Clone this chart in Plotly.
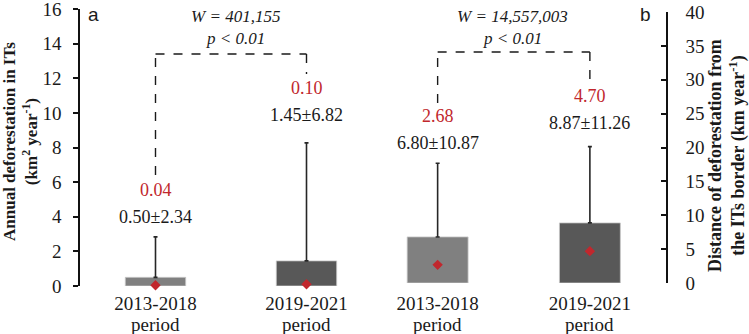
import plotly.graph_objects as go

W, H = 749, 334

# ---- data ----
periods = ["2013-2018", "2019-2021"]
period_word = "period"

a_mean = [0.50, 1.45]      # annual deforestation in ITs (km2 / year)
a_sd = [2.34, 6.82]
a_median = [0.04, 0.10]

b_mean = [6.80, 8.87]      # distance of deforestation from ITs border (km / year)
b_sd = [10.87, 11.26]
b_median = [2.68, 4.70]

a_W, a_p = "401,155", "0.01"
b_W, b_p = "14,557,003", "0.01"

left_ticks = list(range(0, 17, 2))
right_ticks = list(range(0, 41, 5))

# ---- styles ----
LIGHT = "#808080"
DARK = "#585858"
RED = "#c1272d"
INK = "#1a1a1a"
SERIF = "Liberation Serif, Times New Roman, serif"
SANS = "Liberation Sans, Arial, sans-serif"


def py(p):
    return 1 - p / H


def px(p):
    return p / W


fig = go.Figure()

for mean, sd, med, xa, ya in [(a_mean, a_sd, a_median, "x", "y"),
                              (b_mean, b_sd, b_median, "x2", "y2")]:
    fig.add_trace(go.Bar(
        x=periods, y=mean, width=0.4, xaxis=xa, yaxis=ya,
        marker=dict(color=[LIGHT, DARK], line=dict(color="#c8c8c8", width=0.8)),
        error_y=dict(type="data", array=sd, arrayminus=[0] * len(sd), symmetric=False,
                     color="#262626", thickness=1.6, width=2),
        showlegend=False, hoverinfo="skip",
    ))
    fig.add_trace(go.Scatter(
        x=periods, y=med, xaxis=xa, yaxis=ya, mode="markers",
        marker=dict(symbol="diamond", size=8, color=RED),
        cliponaxis=False, showlegend=False, hoverinfo="skip",
    ))

annotations = []
label_shift_a = [20, 28]
label_shift_b = [20, 24]
for mean, sd, med, shifts, xa, ya in [(a_mean, a_sd, a_median, label_shift_a, "x", "y"),
                                      (b_mean, b_sd, b_median, label_shift_b, "x2", "y2")]:
    for i, cat in enumerate(periods):
        top = mean[i] + sd[i]
        annotations.append(dict(x=cat, y=top, xref=xa, yref=ya, yshift=shifts[i],
                                text=f"{mean[i]:.2f}±{sd[i]:.2f}", showarrow=False,
                                xanchor="center", yanchor="middle",
                                font=dict(family=SERIF, size=18, color=INK)))
        annotations.append(dict(x=cat, y=top, xref=xa, yref=ya, yshift=shifts[i] + 27,
                                text=f"{med[i]:.2f}", showarrow=False,
                                xanchor="center", yanchor="middle",
                                font=dict(family=SERIF, size=18, color=RED)))
        annotations.append(dict(x=cat, y=py(324), xref=xa, yref="paper",
                                text=period_word, showarrow=False,
                                xanchor="center", yanchor="middle",
                                font=dict(family=SERIF, size=19, color=INK)))

# significance text
for xc, wv, pv in [(235, a_W, a_p), (512, b_W, b_p)]:
    annotations.append(dict(x=px(xc), y=py(16), xref="paper", yref="paper", showarrow=False,
                            text=f"<i>W = {wv}</i>", xanchor="center", yanchor="middle",
                            font=dict(family=SERIF, size=17, color=INK)))
    annotations.append(dict(x=px(xc), y=py(38), xref="paper", yref="paper", showarrow=False,
                            text=f"<i>p < {pv}</i>", xanchor="center", yanchor="middle",
                            font=dict(family=SERIF, size=17, color=INK)))

# panel letters
annotations.append(dict(x=px(93), y=py(15), xref="paper", yref="paper", showarrow=False,
                        xanchor="center", yanchor="middle",
                        text="a", font=dict(family=SANS, size=19, color=INK)))
annotations.append(dict(x=px(645), y=py(15), xref="paper", yref="paper", showarrow=False,
                        xanchor="center", yanchor="middle",
                        text="b", font=dict(family=SANS, size=19, color=INK)))

# axis titles
annotations.append(dict(x=px(20), y=py(142), xref="paper", yref="paper", showarrow=False,
                        textangle=-90, xanchor="center", yanchor="middle",
                        text="<b>Annual deforestation in ITs<br>(km<sup>2</sup> year<sup>-1</sup>)</b>",
                        font=dict(family=SERIF, size=17, color=INK)))
annotations.append(dict(x=px(727), y=py(156), xref="paper", yref="paper", showarrow=False,
                        textangle=-90, xanchor="center", yanchor="middle",
                        text="<b>Distance of deforestation from<br>the ITs border (km year<sup>-1</sup>)</b>",
                        font=dict(family=SERIF, size=18, color=INK)))

# brackets
dash = dict(color="#1a1a1a", width=1.4, dash="dash")
shapes = []
for xa, y_left, y_right, y_top in [("x", 175, 74, 54), ("x2", 103, 80, 52)]:
    shapes.append(dict(type="line", xref=xa, yref="paper", x0=periods[0], x1=periods[0],
                       y0=py(y_left), y1=py(y_top), line=dash))
    shapes.append(dict(type="line", xref=xa, yref="paper", x0=periods[0], x1=periods[1],
                       y0=py(y_top), y1=py(y_top), line=dash))
    shapes.append(dict(type="line", xref=xa, yref="paper", x0=periods[1], x1=periods[1],
                       y0=py(y_top), y1=py(y_right), line=dash))

xcommon = dict(type="category", range=[-0.5, 1.5], showline=False, ticks="",
               showgrid=False, zeroline=False, automargin=False,
               tickfont=dict(family=SERIF, size=19, color=INK))
ycommon = dict(showline=True, linecolor="#111", linewidth=1.5, tickwidth=1.5,
               tickcolor="#111", ticklen=5, showgrid=False, zeroline=False, automargin=False,
               ticklabeloverflow="allow",
               tickfont=dict(family=SERIF, size=19, color=INK))

fig.update_layout(
    width=W, height=H,
    margin=dict(l=0, r=0, t=0, b=0, pad=0, autoexpand=False),
    paper_bgcolor="white", plot_bgcolor="white",
    bargap=0.6,
    xaxis=dict(domain=[px(80), px(382)], anchor="y", ticklabelstandoff=4, **xcommon),
    yaxis=dict(domain=[py(286), py(9)], anchor="x", range=[0, 16], tickvals=left_ticks,
               ticks="outside", ticklabelstandoff=8, **ycommon),
    xaxis2=dict(domain=[px(361.5), px(666)], anchor="y2", ticklabelstandoff=7, **xcommon),
    yaxis2=dict(domain=[py(283), py(12)], anchor="x2", range=[0, 40], tickvals=right_ticks,
                side="right", ticks="inside", ticklabelstandoff=14, **ycommon),
    annotations=annotations,
    shapes=shapes,
)

fig.write_html(
    "out.html",
    config={"displayModeBar": False},
    post_script="document.body.style.margin='0';document.body.style.overflow='hidden';",
)
